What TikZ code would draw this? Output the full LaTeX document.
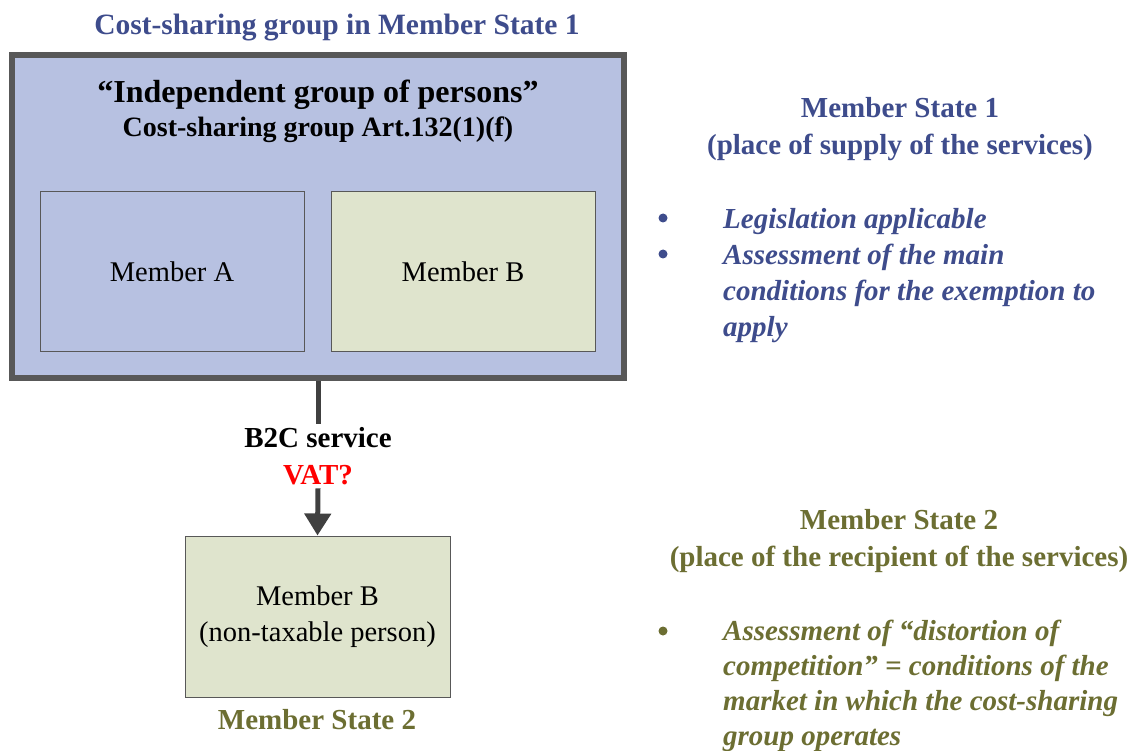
\documentclass[tikz,border=0pt]{standalone}
\usepackage{fontspec}
\setmainfont{Liberation Serif}
\usetikzlibrary{arrows.meta}

\definecolor{msblue}{RGB}{62,76,140}
\definecolor{msolive}{RGB}{108,110,50}
\definecolor{grpfill}{RGB}{183,193,225}
\definecolor{memfill}{RGB}{223,228,205}
\definecolor{edgegray}{RGB}{88,88,88}
\definecolor{linkgray}{RGB}{64,64,64}

\tikzset{
  groupbox/.style={draw=edgegray, line width=6pt, fill=grpfill,
    minimum width=612pt, minimum height=323pt},
  member/.style={draw=edgegray, line width=1pt, minimum width=264pt,
    minimum height=159pt, align=center, font=\fontsize{28.5}{36}\selectfont},
  heading/.style={font=\bfseries\fontsize{29}{37}\selectfont, align=center},
  bullettext/.style={font=\bfseries\itshape\fontsize{29}{36}\selectfont,
    align=left, anchor=north west, inner sep=0pt},
  dot/.style={circle, inner sep=0pt, minimum size=9pt},
  link/.style={draw=linkgray, line width=5pt},
}

\begin{document}
\begin{tikzpicture}[x=1pt, y=-1pt]
    \useasboundingbox (0,0) rectangle (1137,751);

    % the cost-sharing group and its members
    \node[heading, text=msblue, font=\bfseries\fontsize{29.5}{37}\selectfont] (title) at (337,28) {Cost-sharing group in Member State 1};
    \node[groupbox] (group) at (318,216.5) {};
    \node[font=\bfseries\fontsize{32}{36}\selectfont] (igp) at (318,95) {“Independent group of persons”};
    \node[font=\bfseries\fontsize{28}{32}\selectfont] (art) at (318,130) {Cost-sharing group Art.132(1)(f)};
    \node[member, fill=grpfill] (memA) at (172,271.5) {Member A};
    \node[member, fill=memfill] (memB) at (463,271.5) {Member B};

    % recipient of the service
    \node[member, fill=memfill, minimum width=265pt, minimum height=161pt] (recv) at (317.5,616.5) {Member B\\(non-taxable person)};
    \node[heading, text=msolive] (recvstate) at (317,720) {Member State 2};

    % B2C supply
    \node[heading] (svc) at (318,456) {B2C service\\\textcolor{red}{VAT?}};
    \draw[link] (group.south) -- (svc.north);
    \draw[link, -{Triangle[width=26pt, length=22pt]}] (svc.south) -- (recv.north);

    % Member State 1 notes
    \node[heading, text=msblue] (msone) at (900,129) {Member State 1\\(place of supply of the services)};
    \node[dot, fill=msblue] (dotone) at (663,218) {};
    \node[dot, fill=msblue] (dottwo) at (663,254) {};
    \node[bullettext, text=msblue] (notesone) at (723,208) {Legislation applicable\\Assessment of the main\\conditions for the exemption to\\apply};

    % Member State 2 notes
    \node[heading, text=msolive] (mstwo) at (899,541.5) {Member State 2\\(place of the recipient of the services)};
    \node[dot, fill=msolive] (dotthree) at (663,631) {};
    \node[bullettext, text=msolive, font=\bfseries\itshape\fontsize{29}{35}\selectfont] (notestwo) at (723,620) {Assessment of “distortion of\\competition” = conditions of the\\market in which the cost-sharing\\group operates};
\end{tikzpicture}
\end{document}
